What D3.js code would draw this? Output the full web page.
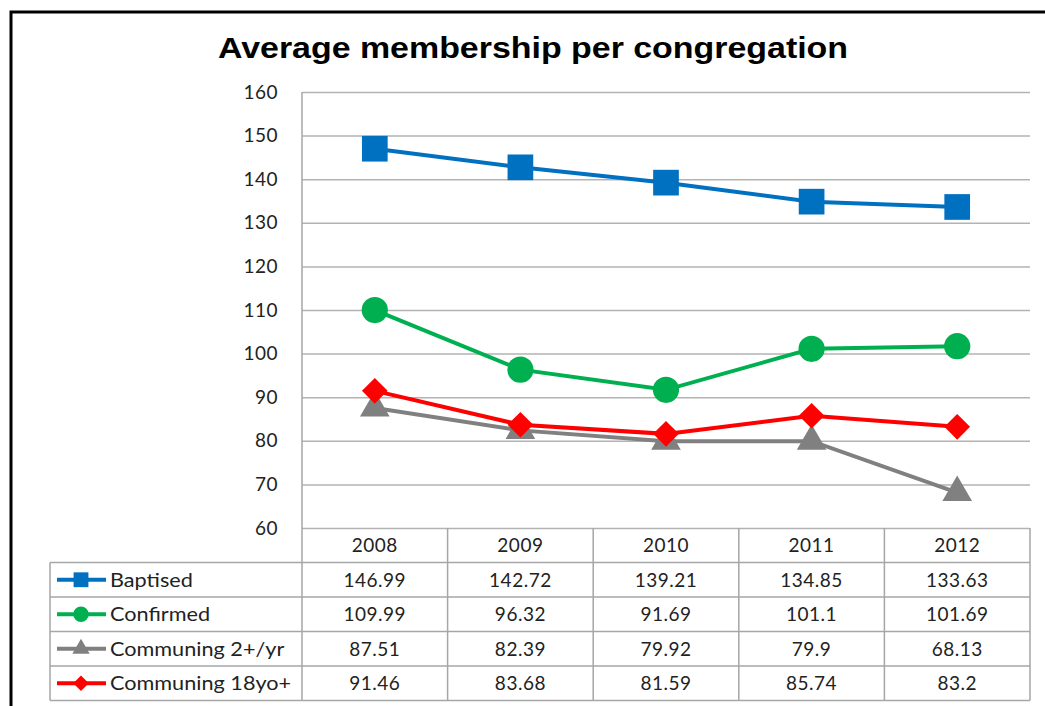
<!DOCTYPE html>
<html lang="en">
<head>
<meta charset="UTF-8">
<title>Average membership per congregation</title>
<script src="https://d3js.org/d3.v7.min.js"></script>
<style>
    body { margin: 0; background: #fff; }
    svg { display: block; }
    .tick text { font-family: Lato, "Open Sans", sans-serif; }
</style>
</head>
<body>
<svg width="1045" height="706"></svg>
<script>
const years = ["2008", "2009", "2010", "2011", "2012"];
const seriesNames = ["Baptised", "Confirmed", "Communing 2+/yr", "Communing 18yo+"];
const baptised = [146.99, 142.72, 139.21, 134.85, 133.63];
const confirmed = [109.99, 96.32, 91.69, 101.1, 101.69];
const communing2 = [87.51, 82.39, 79.92, 79.9, 68.13];
const communing18 = [91.46, 83.68, 81.59, 85.74, 83.2];
const yTicks = [60, 70, 80, 90, 100, 110, 120, 130, 140, 150, 160];

// wide diamond: a square turned 45 degrees
const symbolWideDiamond = {
    draw(context, size) {
        const r = Math.sqrt(size / 2);
        context.moveTo(0, -r);
        context.lineTo(r, 0);
        context.lineTo(0, r);
        context.lineTo(-r, 0);
        context.closePath();
    }
};

const series = [
    {name: seriesNames[0], values: baptised, color: "#0070C0", shape: d3.symbolSquare, size: 660, keySize: 220},
    {name: seriesNames[1], values: confirmed, color: "#00B050", shape: d3.symbolCircle, size: 540, keySize: 190},
    {name: seriesNames[2], values: communing2, color: "#808080", shape: d3.symbolTriangle, size: 380, keySize: 130},
    {name: seriesNames[3], values: communing18, color: "#FF0000", shape: symbolWideDiamond, size: 330, keySize: 120}
];

const svg = d3.select("svg");
const font = "Lato, 'Open Sans', sans-serif";

// outer frame
svg.append("rect")
    .attr("x", 11).attr("y", 12)
    .attr("width", 1060).attr("height", 720)
    .attr("fill", "none").attr("stroke", "#000").attr("stroke-width", 3);

// title, stretched a little sideways like the original
svg.append("text")
    .attr("transform", "translate(533,58) scale(1.17,1)")
    .attr("text-anchor", "middle")
    .attr("font-family", "'Liberation Sans', Arial, sans-serif")
    .attr("font-weight", "bold")
    .attr("font-size", 29)
    .text("Average membership per congregation");

const plotLeft = 302, plotRight = 1030, plotTop = 92, plotBottom = 528;
const rowH = 34.5;
const tableLeft = 50;

const x = d3.scaleBand().domain(years).range([plotLeft, plotRight]);
const y = d3.scaleLinear().domain([60, 160]).range([plotBottom, plotTop]);

// gridlines + y labels
const yAxis = svg.append("g")
    .attr("transform", `translate(${plotLeft},0)`)
    .call(d3.axisLeft(y).tickValues(yTicks).tickSize(-(plotRight - plotLeft)).tickPadding(24));
yAxis.select(".domain").remove();
yAxis.selectAll(".tick line").attr("stroke", "#b3b3b3").attr("stroke-width", 1.5);
yAxis.selectAll(".tick text").attr("font-size", 19).attr("fill", "#222").attr("letter-spacing", 0.5);

// table
const table = svg.append("g").attr("stroke", "#a6a6a6").attr("stroke-width", 1.5).attr("fill", "none");
const tableTop = plotBottom + rowH;
const tableBottom = tableTop + rowH * series.length;
[plotLeft, ...years.map(d => x(d) + x.bandwidth())].forEach(px => {
    table.append("line").attr("x1", px).attr("x2", px)
        .attr("y1", px === plotLeft ? plotTop : plotBottom).attr("y2", tableBottom);
});
table.append("line").attr("x1", tableLeft).attr("x2", tableLeft).attr("y1", tableTop).attr("y2", tableBottom);
d3.range(series.length + 1).forEach(i => {
    const py = tableTop + i * rowH;
    table.append("line").attr("x1", tableLeft).attr("x2", plotRight).attr("y1", py).attr("y2", py);
});

// header years
svg.append("g").selectAll("text")
    .data(years).join("text")
    .attr("x", d => x(d) + x.bandwidth() / 2)
    .attr("y", plotBottom + rowH / 2 + 7)
    .attr("text-anchor", "middle")
    .attr("font-family", font).attr("font-size", 19).attr("fill", "#222").attr("letter-spacing", 0.5)
    .text(d => d);

// rows
series.forEach((s, i) => {
    const cy = tableTop + i * rowH + rowH / 2;
    const row = svg.append("g");
    row.append("line")
        .attr("x1", 57).attr("x2", 106).attr("y1", cy).attr("y2", cy)
        .attr("stroke", s.color).attr("stroke-width", 4);
    row.append("path")
        .attr("d", d3.symbol().type(s.shape).size(s.keySize)())
        .attr("transform", `translate(81,${cy})`)
        .attr("fill", s.color);
    row.append("text")
        .attr("transform", `translate(110,${cy + 7}) scale(1.14,1)`)
        .attr("font-family", font).attr("font-size", 19).attr("fill", "#222")
        .text(s.name);
    row.selectAll(".val")
        .data(s.values).join("text")
        .attr("x", (d, j) => x(years[j]) + x.bandwidth() / 2)
        .attr("y", cy + 7)
        .attr("text-anchor", "middle")
        .attr("font-family", font).attr("font-size", 19).attr("fill", "#222").attr("letter-spacing", 0.5)
        .text(d => d);
});

// lines + markers
const line = d3.line().x((d, j) => x(years[j]) + x.bandwidth() / 2).y(d => y(d));
series.forEach(s => {
    svg.append("path")
        .datum(s.values)
        .attr("d", line)
        .attr("fill", "none").attr("stroke", s.color).attr("stroke-width", 4);
    svg.append("g").selectAll("path")
        .data(s.values).join("path")
        .attr("d", d3.symbol().type(s.shape).size(s.size)())
        .attr("transform", (d, j) => `translate(${x(years[j]) + x.bandwidth() / 2},${y(d)})`)
        .attr("fill", s.color);
});
</script>
</body>
</html>
